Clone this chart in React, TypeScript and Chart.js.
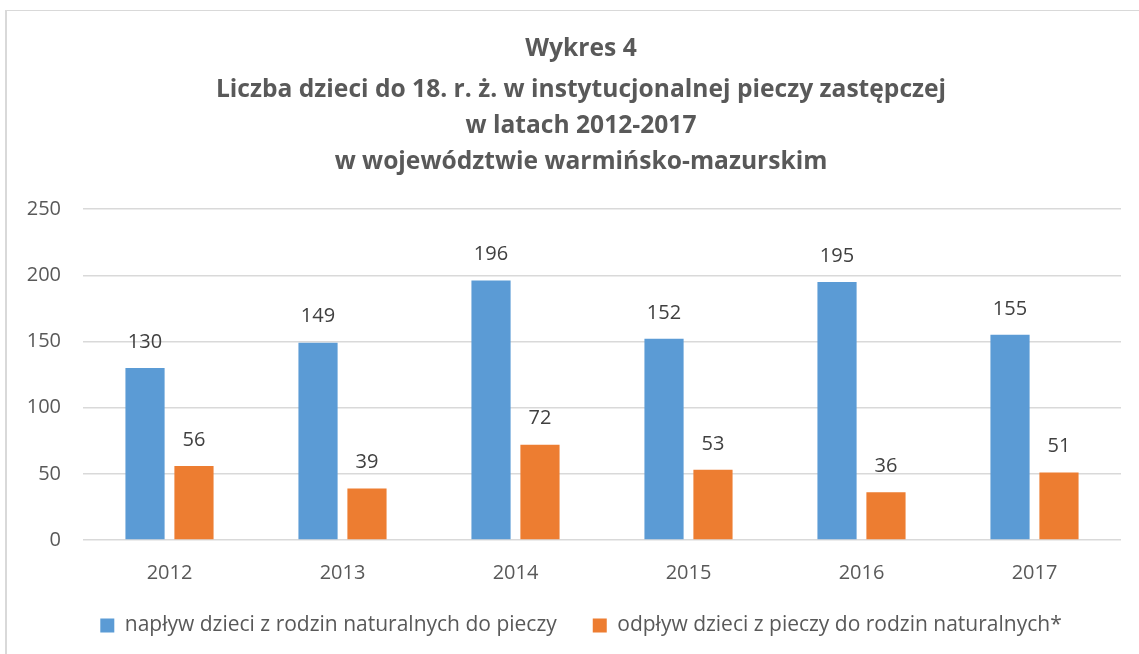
import React, { useEffect, useRef } from 'react';
import { Chart, registerables } from 'chart.js';

Chart.register(...registerables);

const years = ['2012', '2013', '2014', '2015', '2016', '2017'];
const inflow = [130, 149, 196, 152, 195, 155];
const outflow = [56, 39, 72, 53, 36, 51];
const seriesLabels = [
  'napływ dzieci z rodzin naturalnych do pieczy',
  'odpływ dzieci z pieczy do rodzin naturalnych*',
];
const titleLine = 'Wykres 4';
const subtitleLines = [
  'Liczba dzieci do 18. r. ż. w instytucjonalnej pieczy zastępczej',
  'w latach 2012-2017',
  'w województwie warmińsko-mazurskim',
];
const yMin = 0;
const yMax = 250;
const yStep = 50;

const FONT = '"Open Sans", "Noto Sans", sans-serif';

const valueLabels = {
  id: 'valueLabels',
  afterDatasetsDraw(chart: any) {
    const ctx = chart.ctx;
    ctx.save();
    ctx.font = `20px ${FONT}`;
    ctx.fillStyle = '#404040';
    ctx.textAlign = 'center';
    ctx.textBaseline = 'middle';
    chart.data.datasets.forEach((ds: any, i: number) => {
      const meta = chart.getDatasetMeta(i);
      meta.data.forEach((bar: any, j: number) => {
        ctx.fillText(String(ds.data[j]), bar.x, bar.y - 26);
      });
    });
    ctx.restore();
  },
};

// centre the title and legend over the whole framed box, and pull the legend up a little
const centreBoxes = {
  id: 'centreBoxes',
  afterLayout(chart: any) {
    chart.boxes.forEach((b: any) => {
      if (!b.axis) {
        b.left += 17.5;
        b.right += 17.5;
      }
    });
    if (chart.legend) {
      chart.legend.top -= 6;
      chart.legend.bottom -= 6;
    }
  },
};

export default function App() {
  const ref = useRef<HTMLCanvasElement | null>(null);

  useEffect(() => {
    if (!ref.current) return;
    const chart = new Chart(ref.current, {
      type: 'bar',
      data: {
        labels: years,
        datasets: [
          {
            label: seriesLabels[0],
            data: inflow,
            backgroundColor: '#5B9BD5',
            barPercentage: 0.8,
            categoryPercentage: 0.566,
          },
          {
            label: seriesLabels[1],
            data: outflow,
            backgroundColor: '#ED7D31',
            barPercentage: 0.8,
            categoryPercentage: 0.566,
          },
        ],
      },
      options: {
        responsive: false,
        animation: false,
        layout: { padding: { left: 0, right: 35, top: 0, bottom: 9 } },
        plugins: {
          title: {
            display: true,
            text: titleLine,
            color: '#595959',
            font: { family: FONT, size: 24.6, weight: 'bold', lineHeight: 1.2 },
            padding: { top: 34.3, bottom: 8.3 },
          },
          subtitle: {
            display: true,
            text: subtitleLines,
            color: '#595959',
            font: { family: FONT, size: 24.6, weight: 'bold', lineHeight: 36 / 24.6 },
            padding: { top: 0, bottom: 29 },
          },
          legend: {
            position: 'bottom',
            maxHeight: 60,
            labels: {
              boxWidth: 14,
              boxHeight: 14,
              color: '#595959',
              font: { family: FONT, size: 21 },
              padding: 36,
            },
          },
          tooltip: { enabled: false },
        },
        scales: {
          x: {
            grid: { display: false, drawTicks: false },
            border: { display: false },
            ticks: { color: '#595959', font: { family: FONT, size: 20 }, padding: 21 },
            afterFit(scale: any) {
              scale.height = 45;
            },
          },
          y: {
            min: yMin,
            max: yMax,
            grid: { color: '#d9d9d9', lineWidth: 1.5, drawTicks: false },
            border: { display: false },
            ticks: {
              stepSize: yStep,
              color: '#595959',
              font: { family: FONT, size: 20 },
              padding: 22,
            },
            afterFit(scale: any) {
              scale.width = 77;
            },
          },
        },
      },
      plugins: [valueLabels, centreBoxes],
    });
    return () => chart.destroy();
  }, []);

  return (
    <div
      style={{
        position: 'fixed',
        left: 0,
        top: 0,
        width: 1139,
        height: 654,
        overflow: 'hidden',
        background: '#ffffff',
      }}
    >
      <div
        style={{
          position: 'absolute',
          left: 5,
          top: 10,
          width: 1200,
          height: 700,
          borderLeft: '2px solid #d9d9d9',
          borderTop: '1px solid #d9d9d9',
        }}
      />
      <canvas
        ref={ref}
        width={1150}
        height={654}
        style={{ position: 'absolute', left: 6, top: 0, width: 1150, height: 654 }}
      />
    </div>
  );
}
